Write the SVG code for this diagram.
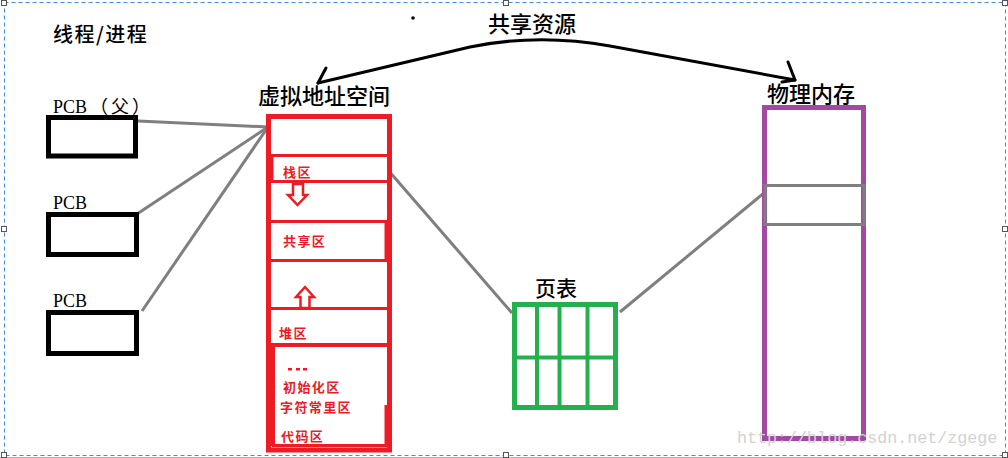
<svg xmlns="http://www.w3.org/2000/svg" width="1008" height="458" viewBox="0 0 1008 458">
<style>
.t{font-family:"Noto Sans CJK SC","Noto Sans",sans-serif;fill:#000;font-weight:500}
.pcb{font-family:"Liberation Serif","Noto Sans CJK SC",serif;font-size:18px;fill:#000}
.r{font-family:"Noto Sans CJK SC",sans-serif;font-size:13px;font-weight:bold;fill:#ed1c24;letter-spacing:1.4px}
.box{fill:#fff;stroke:#000;stroke-width:5}
.red{fill:none;stroke:#ed1c24}
.con{stroke:#7f7f7f;stroke-width:3;fill:none}
.h{fill:#fff;stroke:#555;stroke-width:1}
</style>
<rect width="1008" height="458" fill="#fff"/>
<g id="frame">
<rect x="4.5" y="2.5" width="1001" height="453" fill="none" stroke="#3a8ee6" stroke-width="1" stroke-dasharray="4 3"/>
<line x1="0" y1="457.5" x2="1008" y2="457.5" stroke="#a8b8cc" stroke-width="1"/>
<rect class="h" x="1.5" y="0.5" width="5" height="5"/>
<rect class="h" x="503.5" y="0.5" width="5" height="5"/>
<rect class="h" x="1002.5" y="0.5" width="5" height="5"/>
<rect class="h" x="1.5" y="226.5" width="5" height="5"/>
<rect class="h" x="1002.5" y="226.5" width="5" height="5"/>
<rect class="h" x="1.5" y="452.5" width="5" height="5"/>
<rect class="h" x="503.5" y="452.5" width="5" height="5"/>
<rect class="h" x="1002.5" y="452.5" width="5" height="5"/>
</g>
<circle cx="413" cy="18" r="1.8" fill="#000"/>
<text class="t" x="53" y="42" font-size="20" letter-spacing="1.5">线程/进程</text>
<g id="connectors">
<line class="con" x1="138" y1="121" x2="268" y2="127"/>
<line class="con" x1="137" y1="214" x2="268" y2="127"/>
<line class="con" x1="142" y1="311" x2="268" y2="127"/>
<line class="con" x1="388" y1="170" x2="512" y2="313"/>
<line class="con" x1="620" y1="312" x2="764" y2="193"/>
<g id="shared" fill="none" stroke="#000" stroke-width="3" stroke-linecap="round" stroke-linejoin="round">
<path d="M318,83 L470,47 Q538,33 610,46 L795,80"/>
<path d="M326,68 L318,83"/>
<path d="M788,62 L795,80 L782,82"/>
</g>
<text class="t" x="488" y="32" font-size="22">共享资源</text>
</g>
<g id="pcb1">
<text class="pcb" x="53" y="113">PCB<tspan dx="3" letter-spacing="3">（父）</tspan></text>
<rect class="box" x="48.5" y="117.5" width="87" height="38.5"/>
</g>
<g id="pcb2">
<text class="pcb" x="53" y="209">PCB</text>
<rect class="box" x="48.5" y="214.5" width="88" height="40"/>
</g>
<g id="pcb3">
<text class="pcb" x="53" y="307">PCB</text>
<rect class="box" x="48.5" y="312.5" width="88" height="41"/>
</g>
<g id="vas">
<text class="t" x="258" y="104" font-size="22">虚拟地址空间</text>
<rect class="red" x="268.5" y="116.5" width="121" height="333.5" stroke-width="5"/>
<g class="red" stroke-width="3">
<line x1="268" y1="155.5" x2="389" y2="155.5"/>
<line x1="272" y1="155" x2="272" y2="182"/>
<line x1="268" y1="181.5" x2="389" y2="181.5"/>
<line x1="268" y1="221.5" x2="389" y2="221.5"/>
<line x1="386" y1="221" x2="386" y2="261"/>
<line x1="268" y1="260.5" x2="389" y2="260.5"/>
<line x1="268" y1="308.5" x2="392" y2="308.5"/>
<line x1="268" y1="345" x2="392" y2="345" stroke-width="4"/>
<line x1="273" y1="345" x2="273" y2="446" stroke-width="4"/>
<line x1="386" y1="405" x2="386" y2="446"/>
<line x1="272" y1="445.5" x2="387" y2="445.5"/>
</g>
<text class="r" x="283" y="177">栈区</text>
<polygon points="293,184 303,184 303,195 307,195 297.5,205 288,195 293,195" fill="#fff" stroke="#ed1c24" stroke-width="2.5"/>
<text class="r" x="283" y="246">共享区</text>
<polygon points="305,287 314,297 309.5,297 309.5,308 300.5,308 300.5,297 296,297" fill="#fff" stroke="#ed1c24" stroke-width="2.5"/>
<text class="r" x="279" y="338">堆区</text>
<g fill="#ed1c24">
<rect x="288" y="368" width="4" height="2.5"/>
<rect x="296" y="368" width="4" height="2.5"/>
<rect x="303" y="368" width="4" height="2.5"/>
</g>
<text class="r" x="283" y="392">初始化区</text>
<text class="r" x="280" y="412">字符常里区</text>
<text class="r" x="281" y="441">代码区</text>
</g>
<g id="pagetable">
<text class="t" x="535" y="296" font-size="21">页表</text>
<rect x="514.5" y="304.5" width="101" height="103" fill="none" stroke="#22b14c" stroke-width="5"/>
<g stroke="#22b14c" stroke-width="4">
<line x1="537" y1="305" x2="537" y2="407"/>
<line x1="559.5" y1="305" x2="559.5" y2="407"/>
<line x1="587.5" y1="305" x2="587.5" y2="407"/>
<line x1="515" y1="357.5" x2="615" y2="357.5"/>
</g>
</g>
<g id="physmem">
<text class="t" x="767" y="102" font-size="22">物理内存</text>
<rect x="764.5" y="107.5" width="99" height="331" fill="none" stroke="#a349a4" stroke-width="5"/>
<rect x="765" y="185.5" width="99" height="39" fill="none" stroke="#7f7f7f" stroke-width="3"/>
</g>
<text x="737" y="443" font-family="Liberation Mono, monospace" font-size="16.7" fill="#d2d2d2">http://blog.csdn.net/zgege</text>
</svg>
